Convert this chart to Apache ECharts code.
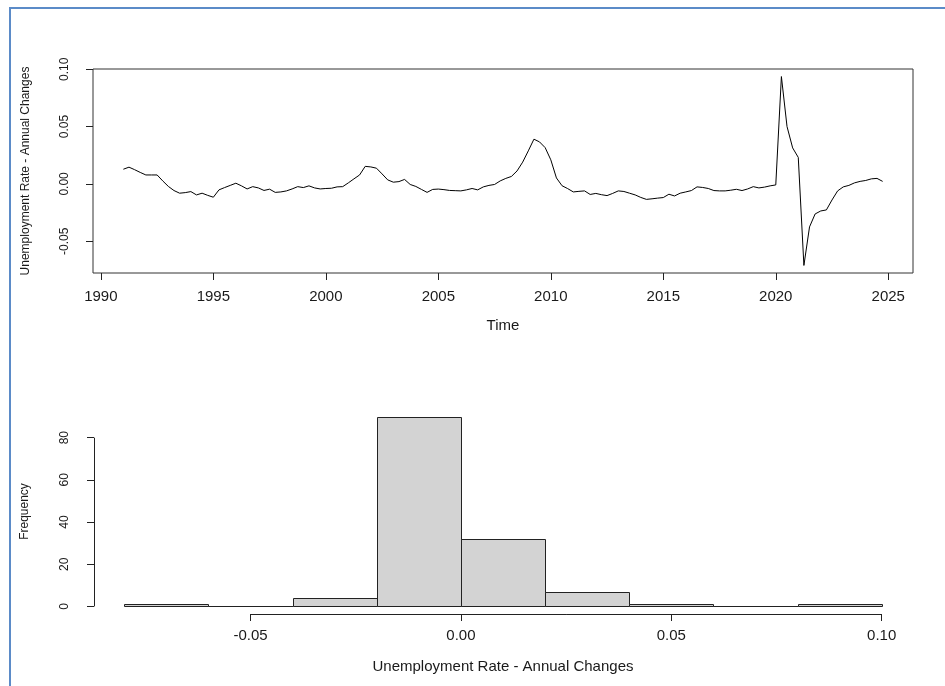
<!DOCTYPE html>
<html>
<head>
<meta charset="utf-8">
<script src="https://cdn.jsdelivr.net/npm/echarts@6/dist/echarts.min.js"></script>
<style>
html,body{margin:0;padding:0;background:#fff;}
#frame{position:absolute;left:9px;top:7px;width:940px;height:690px;border-top:2px solid #5b8bc8;border-left:2px solid #5b8bc8;}
#chart{position:absolute;left:0;top:0;width:945px;height:686px;}
</style>
</head>
<body>
<div id="frame"></div>
<div id="chart"></div>
<script>
// ---- data ----
const startYear = 1991;          // first observation (Q1)
const periodsPerYear = 4;        // quarterly
const changes = [
 0.0128, 0.0146, 0.0124, 0.0100, 0.0078, 0.0078, 0.0078, 0.0026, -0.0022, -0.0058, -0.0081, -0.0076,
 -0.0067, -0.0096, -0.0081, -0.0100, -0.0116, -0.0052, -0.0032, -0.0013, 0.0006, -0.0017, -0.0044, -0.0024,
 -0.0035, -0.0057, -0.0046, -0.0074, -0.0070, -0.0061, -0.0044, -0.0024, -0.0032, -0.0017, -0.0035, -0.0044,
 -0.0040, -0.0038, -0.0026, -0.0024, 0.0009, 0.0044, 0.0078, 0.0153, 0.0148, 0.0137, 0.0087, 0.0035,
 0.0015, 0.0020, 0.0039, -0.0005, -0.0022, -0.0048, -0.0074, -0.0048, -0.0045, -0.0050, -0.0057, -0.0059,
 -0.0061, -0.0052, -0.0040, -0.0052, -0.0026, -0.0013, -0.0005, 0.0026, 0.0048, 0.0065, 0.0113, 0.0190,
 0.0288, 0.0390, 0.0366, 0.0316, 0.0210, 0.0052, -0.0016, -0.0041, -0.0070, -0.0065, -0.0061, -0.0092,
 -0.0083, -0.0094, -0.0102, -0.0083, -0.0061, -0.0066, -0.0081, -0.0096,
 -0.0118, -0.0135, -0.0130, -0.0124, -0.0119, -0.0090, -0.0105, -0.0081, -0.0070, -0.0058, -0.0026, -0.0031,
 -0.0040, -0.0058, -0.0061, -0.0061, -0.0055, -0.0047, -0.0058, -0.0044, -0.0024, -0.0035, -0.0028, -0.0017, -0.0009,
 0.0936, 0.0500, 0.0314, 0.0231, -0.0711, -0.0375, -0.0262, -0.0236, -0.0227, -0.0140, -0.0061, -0.0026,
 -0.0013, 0.0009, 0.0022, 0.0030, 0.0044, 0.0048, 0.0022
];
const timeTicks = [1990, 1995, 2000, 2005, 2010, 2015, 2020, 2025];
const changeTicks = [-0.05, 0.00, 0.05, 0.10];
const binEdges = [-0.08, -0.06, -0.04, -0.02, 0.00, 0.02, 0.04, 0.06, 0.08, 0.10];
const binCounts = [1, 0, 4, 90, 32, 7, 1, 0, 1];
const histXTicks = [-0.05, 0.00, 0.05, 0.10];
const freqTicks = [0, 20, 40, 60, 80];
const yLabelTop = 'Unemployment Rate - Annual Changes';
const xLabelTop = 'Time';
const xLabelHist = 'Unemployment Rate - Annual Changes';
const yLabelHist = 'Frequency';

// ---- build ----
const seriesData = changes.map((v, i) => [startYear + i / periodsPerYear, v]);
const histData = binCounts.map((c, i) => [binEdges[i], binEdges[i + 1], c]);

function padRange(lo, hi) { const d = (hi - lo) * 0.04; return [lo - d, hi + d]; }
const tRange = padRange(seriesData[0][0], seriesData[seriesData.length - 1][0]);
const vRange = padRange(Math.min(...changes), Math.max(...changes));
const hxRange = padRange(binEdges[0], binEdges[binEdges.length - 1]);
const hyRange = padRange(0, Math.max(...binCounts));

const FONT = "'Liberation Sans', Arial, sans-serif";
const TXT = '#1a1a1a';
const hFont = 15, vFont = 12;
const tickStyle = (vals) => ({show: true, inside: false, length: 7, customValues: vals, lineStyle: {color: '#222', width: 1}});

const chart = echarts.init(document.getElementById('chart'), null, {renderer: 'canvas'});
chart.setOption({
  animation: false,
  grid: [
    {left: 93, right: 32, top: 69, height: 204, show: true, borderColor: '#333', borderWidth: 1, backgroundColor: 'transparent'},
    {left: 94, right: 33, top: 409, height: 205, show: false}
  ],
  xAxis: [
    {
      type: 'value', gridIndex: 0, min: tRange[0], max: tRange[1],
      splitLine: {show: false}, axisLine: {show: false, onZero: false},
      axisTick: tickStyle(timeTicks),
      axisLabel: {show: true, customValues: timeTicks, margin: 16, fontSize: hFont, fontFamily: FONT, color: TXT, formatter: v => String(v)},
      name: xLabelTop, nameLocation: 'middle', nameGap: 45,
      nameTextStyle: {fontSize: hFont, fontFamily: FONT, color: TXT}
    },
    {
      type: 'value', gridIndex: 1, min: hxRange[0], max: hxRange[1],
      splitLine: {show: false}, axisLine: {show: false, onZero: false},
      axisTick: tickStyle(histXTicks),
      axisLabel: {show: true, customValues: histXTicks, margin: 14, fontSize: hFont, fontFamily: FONT, color: TXT, formatter: v => v.toFixed(2)},
      name: xLabelHist, nameLocation: 'middle', nameGap: 45,
      nameTextStyle: {fontSize: hFont, fontFamily: FONT, color: TXT}
    }
  ],
  yAxis: [
    {
      type: 'value', gridIndex: 0, min: vRange[0], max: vRange[1],
      splitLine: {show: false}, axisLine: {show: false, onZero: false},
      axisTick: tickStyle(changeTicks),
      axisLabel: {show: true, customValues: changeTicks, rotate: 90, margin: 22, fontSize: vFont, fontFamily: FONT, color: TXT, formatter: v => v.toFixed(2)},
      name: yLabelTop, nameLocation: 'middle', nameRotate: 90, nameGap: 61,
      nameTextStyle: {fontSize: vFont, fontFamily: FONT, color: TXT}
    },
    {
      type: 'value', gridIndex: 1, min: hyRange[0], max: hyRange[1],
      splitLine: {show: false}, axisLine: {show: false, onZero: false},
      axisTick: tickStyle(freqTicks),
      axisLabel: {show: true, customValues: freqTicks, rotate: 90, margin: 23, fontSize: vFont, fontFamily: FONT, color: TXT, formatter: v => String(v)},
      name: yLabelHist, nameLocation: 'middle', nameRotate: 90, nameGap: 63,
      nameTextStyle: {fontSize: vFont, fontFamily: FONT, color: TXT}
    }
  ],
  series: [
    {
      type: 'line', xAxisIndex: 0, yAxisIndex: 0, data: seriesData,
      showSymbol: false, symbol: 'none', lineStyle: {color: '#000', width: 1}, silent: true
    },
    {
      type: 'custom', xAxisIndex: 1, yAxisIndex: 1, data: histData,
      renderItem: function (params, api) {
        const p0 = api.coord([api.value(0), api.value(2)]);
        const p1 = api.coord([api.value(1), 0]);
        return {
          type: 'rect',
          shape: {x: Math.round(p0[0]) + 0.5, y: Math.round(p0[1]) + 0.5, width: Math.round(p1[0]) - Math.round(p0[0]), height: Math.round(p1[1]) - Math.round(p0[1])},
          style: {fill: '#d3d3d3', stroke: '#222', lineWidth: 1}
        };
      }
    },
    {
      type: 'custom', xAxisIndex: 1, yAxisIndex: 1, data: [0], silent: true,
      renderItem: function (params, api) {
        const cs = params.coordSys;
        const yb = Math.round(cs.y + cs.height) + 0.5;
        const xl = Math.round(cs.x) + 0.5;
        const xa = api.coord([histXTicks[0], 0])[0];
        const xb = api.coord([histXTicks[histXTicks.length - 1], 0])[0];
        const ya = api.coord([0, freqTicks[0]])[1];
        const yc = api.coord([0, freqTicks[freqTicks.length - 1]])[1];
        return {type: 'group', children: [
          {type: 'line', shape: {x1: xa, y1: yb, x2: xb, y2: yb}, style: {stroke: '#222', lineWidth: 1}},
          {type: 'line', shape: {x1: xl, y1: ya, x2: xl, y2: yc}, style: {stroke: '#222', lineWidth: 1}}
        ]};
      }
    }
  ]
});
</script>
</body>
</html>
